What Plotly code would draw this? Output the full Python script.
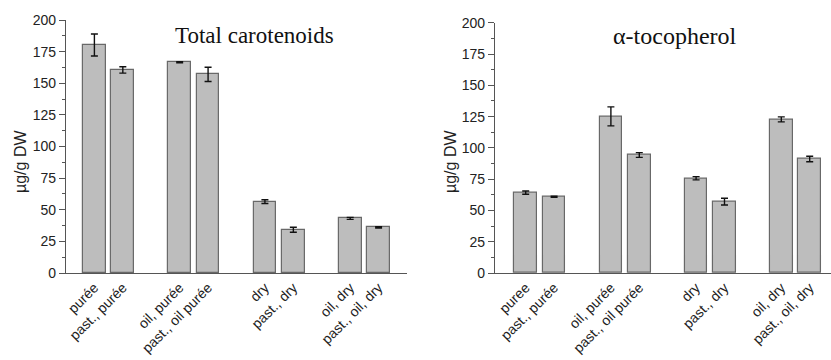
import plotly.graph_objects as go

positions = [1, 2, 4, 5, 7, 8, 10, 11]
labels_left = ["purée", "past., purée", "oil, purée", "past., oil purée",
               "dry", "past., dry", "oil, dry", "past., oil, dry"]
labels_right = ["puree", "past., purée", "oil, purée", "past., oil purée",
                "dry", "past., dry", "oil, dry", "past., oil, dry"]
carot = [180.2, 160.5, 166.6, 157.0, 56.4, 34.2, 43.2, 36.1]
carot_err = [8.7, 2.5, 0.5, 5.6, 1.5, 2.0, 0.8, 0.5]
toco = [64.2, 61.0, 125.2, 94.3, 75.7, 57.0, 122.8, 91.1]
toco_err = [1.3, 0.4, 7.6, 1.9, 1.3, 2.7, 2.0, 2.2]
y_ticks = [0, 25, 50, 75, 100, 125, 150, 175, 200]

BAR = "#bdbdbd"
EDGE = "#686868"
AX = "#555555"
TICKFONT = dict(family="Liberation Sans, Arial", size=14, color="#222222")

fig = go.Figure()
for vals, errs, xa, ya in [(carot, carot_err, "x", "y"), (toco, toco_err, "x2", "y2")]:
    fig.add_trace(go.Bar(
        x=positions, y=vals, width=0.8, xaxis=xa, yaxis=ya,
        marker=dict(color=BAR, line=dict(color=EDGE, width=1.2)),
        error_y=dict(type="data", array=errs, visible=True, color="#111111",
                     thickness=1.4, width=3.5),
        showlegend=False, hoverinfo="y"))

common_y = dict(range=[0, 200], tickvals=y_ticks, ticks="outside", ticklen=6,
                tickwidth=1, tickcolor=AX, showline=True, linecolor=AX, linewidth=1.2,
                showgrid=False, zeroline=False, tickfont=TICKFONT,
                minor=dict(ticks="outside", ticklen=3, tickcolor=AX, dtick=12.5,
                           showgrid=False))
common_x = dict(tickmode="array", tickvals=positions, tickangle=-45, ticks="",
                showline=True, linecolor=AX, linewidth=1.2, showgrid=False,
                zeroline=False, tickfont=dict(family="Liberation Sans, Arial", size=14,
                                              color="#222222"))

fig.update_layout(
    width=831, height=360,
    margin=dict(l=0, r=0, t=20, b=87),
    plot_bgcolor="white", paper_bgcolor="white",
    bargap=0,
    xaxis=dict(domain=[0.0794, 0.4898], range=[0, 12], ticktext=labels_left,
               anchor="y", **common_x),
    yaxis=dict(domain=[0, 1], anchor="x", **common_y),
    xaxis2=dict(domain=[0.5957, 1.0], range=[-0.08, 11.75], ticktext=labels_right,
                anchor="y2", **common_x),
    yaxis2=dict(domain=[0, 0.989], anchor="x2", **common_y),
    annotations=[
        dict(text="Total carotenoids", x=255, y=35, showarrow=False,
             font=dict(family="Liberation Serif, serif", size=23, color="#111111")),
        dict(text="α-tocopherol", x=675, y=36, showarrow=False,
             font=dict(family="Liberation Serif, serif", size=24, color="#111111")),
        dict(text="µg/g DW", x=20, y=162, textangle=-90, showarrow=False,
             font=dict(family="Liberation Sans, Arial", size=16, color="#222222")),
        dict(text="µg/g DW", x=450, y=162, textangle=-90, showarrow=False,
             font=dict(family="Liberation Sans, Arial", size=16, color="#222222")),
    ],
)

# convert pixel positions of annotations to paper coordinates
W, H = 831, 360
plot_h = H - 20 - 87
new_ann = []
for a in fig.layout.annotations:
    px, py = a.x, a.y
    a.xref = "paper"
    a.yref = "paper"
    a.x = px / W
    a.y = (H - 87 - py) / plot_h
    a.xanchor = "center"
    a.yanchor = "middle"
    new_ann.append(a)
fig.layout.annotations = new_ann

fig.write_html("out.html")
